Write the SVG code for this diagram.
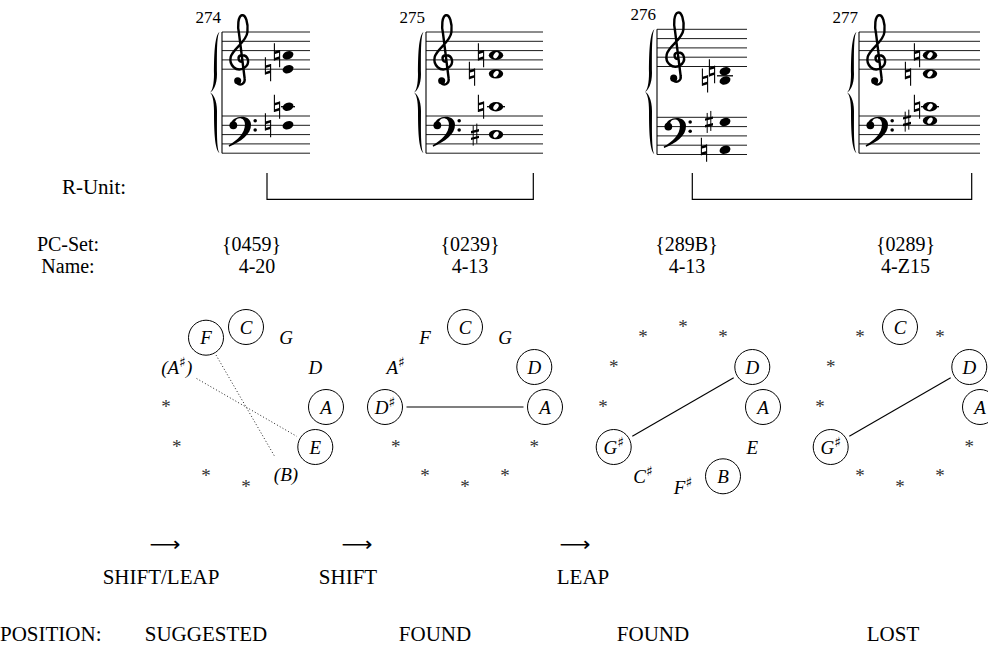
<svg xmlns="http://www.w3.org/2000/svg" xmlns:xlink="http://www.w3.org/1999/xlink" width="988" height="657" viewBox="0 0 988 657">
<style>
.sl{stroke:#000;stroke-width:0.9;fill:none}
.bar{stroke:#000;stroke-width:1.1}
.led{stroke:#000;stroke-width:1.3}
.lbl{font-family:"Liberation Serif",serif;font-size:21px;fill:#000}
.tb{font-family:"Liberation Serif",serif;font-size:20px;fill:#000;text-anchor:middle}
.mid{text-anchor:middle}
.num{font-family:"Liberation Serif",serif;font-size:17px;text-anchor:end;fill:#000}
.it{font-family:"Liberation Serif",serif;font-style:italic;font-size:19px;text-anchor:middle;fill:#000}
.star{font-family:"Liberation Serif",serif;font-size:19px;text-anchor:middle;fill:#333}
.sh{font-family:"DejaVu Sans",sans-serif;font-style:normal;font-size:14px}
.ring{fill:none;stroke:#000;stroke-width:1}
.arw{font-family:"DejaVu Sans",sans-serif;font-size:20px;text-anchor:middle;fill:#000}
.br{fill:none;stroke:#000;stroke-width:1.2}
.solid{stroke:#000;stroke-width:1.1;fill:none}
.dot{stroke:#222;stroke-width:1;stroke-dasharray:1 2.2;fill:none}
</style>
<defs>
<g id="brace">
<path d="M0,0 C-5,3 -5.5,25 -5.5,42 C-5.5,52 -7,58.5 -9.5,60.5 C-6.5,59.5 -2.5,53 -2.5,42 C-2.5,24 -3,4 0,0 Z"/>
<path d="M0,121 C-5,118 -5.5,96 -5.5,79 C-5.5,69 -7,62.5 -9.5,60.5 C-6.5,61.5 -2.5,68 -2.5,79 C-2.5,97 -3,117 0,121 Z"/>
</g>
<g id="gclef">
<path d="M2,2 C-2,2 -3,-4 1,-5 C9,-6 12,4 4,9 C-4,13 -12,6 -10,-3 C-8,-12 7,-19 8,-30 C9,-40 6,-49 2,-48 C-2,-47 -3,-36 -1,-28 L5,20 C6,26 0,28 -3,25" fill="none" stroke="#000" stroke-width="2.6" stroke-linecap="round"/>
<circle cx="-2.5" cy="22.5" r="3.8"/>
</g>
<g id="fclef">
<circle cx="2.5" cy="0" r="4.2"/>
<path d="M-0.5,-1 C1,-11 21,-13 21.5,-1 C22,10 10,18 -2,23 L-2.5,21.5 C7,16 15,9 15,-1 C15,-9 6,-9.5 4.5,-4 Z"/>
<circle cx="26" cy="-5" r="1.9"/>
<circle cx="26" cy="5" r="1.9"/>
</g>
<g id="qn"><ellipse rx="5.6" ry="4" transform="rotate(-20)"/></g>
<g id="wn"><ellipse rx="7.2" ry="4.7"/><ellipse rx="3.4" ry="2.2" transform="rotate(-55)" fill="#fff"/></g>
<g id="nat">
<line x1="-2.6" y1="-12" x2="-2.6" y2="5.3" stroke="#000" stroke-width="1.1"/>
<line x1="2.6" y1="-5.3" x2="2.6" y2="12" stroke="#000" stroke-width="1.1"/>
<polygon points="-2.6,-1.1 2.6,-2.7 2.6,-5.3 -2.6,-3.7"/>
<polygon points="-2.6,5.3 2.6,3.7 2.6,1.1 -2.6,2.7"/>
</g>
<g id="shp">
<line x1="-1.8" y1="-9" x2="-1.8" y2="11" stroke="#000" stroke-width="1"/>
<line x1="1.8" y1="-11" x2="1.8" y2="9" stroke="#000" stroke-width="1"/>
<polygon points="-4,-1.1 4,-3.1 4,-5.5 -4,-3.5"/>
<polygon points="-4,5.5 4,3.5 4,1.1 -4,3.1"/>
</g>
</defs>
<rect width="988" height="657" fill="#fff"/>

<!-- measure 274 -->
<g id="m274">
<text class="num" x="221" y="23">274</text>
<use href="#brace" transform="translate(219.5,32)"/>
<line class="bar" x1="222" y1="32" x2="222" y2="153.2"/>
<path class="sl" d="M222,32H310M222,41.3H310M222,50.6H310M222,59.9H310M222,69.2H310M222,116H310M222,125.3H310M222,134.6H310M222,143.9H310M222,153.2H310"/>
<use href="#gclef" transform="translate(240,59.9) scale(0.93)"/>
<use href="#fclef" transform="translate(231,125.3) scale(0.93)"/>
<use href="#nat" x="277" y="55.25"/><use href="#nat" x="268" y="69.2"/>
<use href="#qn" x="288" y="55.25"/><use href="#qn" x="288" y="69.2"/>
<line class="led" x1="281" y1="106.7" x2="295" y2="106.7"/>
<use href="#nat" x="277" y="106.7"/><use href="#nat" x="268" y="125.3"/>
<use href="#qn" x="288" y="106.7"/><use href="#qn" x="288" y="125.3"/>
</g>

<!-- measure 275 -->
<g id="m275">
<text class="num" x="425" y="23">275</text>
<use href="#brace" transform="translate(423.5,32)"/>
<line class="bar" x1="426" y1="32" x2="426" y2="153.2"/>
<path class="sl" d="M426,32H543M426,41.3H543M426,50.6H543M426,59.9H543M426,69.2H543M426,116H543M426,125.3H543M426,134.6H543M426,143.9H543M426,153.2H543"/>
<use href="#gclef" transform="translate(444,59.9) scale(0.93)"/>
<use href="#fclef" transform="translate(435,125.3) scale(0.93)"/>
<use href="#nat" x="481" y="55.25"/><use href="#nat" x="472" y="73.85"/>
<use href="#wn" x="496" y="55.25"/><use href="#wn" x="496" y="73.85"/>
<line class="led" x1="487" y1="106.7" x2="505" y2="106.7"/>
<use href="#nat" x="481" y="106.7"/><use href="#shp" x="475" y="134.6"/>
<use href="#wn" x="496" y="106.7"/><use href="#wn" x="496" y="134.6"/>
</g>

<!-- measure 276 -->
<g id="m276">
<text class="num" x="656" y="20">276</text>
<use href="#brace" transform="translate(654.5,29.3) scale(1,1.033)"/>
<line class="bar" x1="657" y1="29.3" x2="657" y2="154.5"/>
<path class="sl" d="M657,29.3H747M657,38.6H747M657,47.9H747M657,57.2H747M657,66.5H747M657,117.3H747M657,126.6H747M657,135.9H747M657,145.2H747M657,154.5H747"/>
<use href="#gclef" transform="translate(676,57.2) scale(0.93)"/>
<use href="#fclef" transform="translate(666,126.6) scale(0.93)"/>
<line class="led" x1="717" y1="75.8" x2="733" y2="75.8"/>
<use href="#nat" x="712" y="71.15"/><use href="#nat" x="705" y="80.45"/>
<use href="#qn" x="725" y="71.15"/><use href="#qn" x="725" y="80.45"/>
<use href="#shp" x="709" y="121.95"/><use href="#nat" x="704" y="149.85"/>
<use href="#qn" x="725" y="121.95"/><use href="#qn" x="725" y="149.85"/>
</g>

<!-- measure 277 -->
<g id="m277">
<text class="num" x="858" y="23">277</text>
<use href="#brace" transform="translate(856.5,32)"/>
<line class="bar" x1="859" y1="32" x2="859" y2="153.2"/>
<path class="sl" d="M859,32H980M859,41.3H980M859,50.6H980M859,59.9H980M859,69.2H980M859,116H980M859,125.3H980M859,134.6H980M859,143.9H980M859,153.2H980"/>
<use href="#gclef" transform="translate(877,59.9) scale(0.93)"/>
<use href="#fclef" transform="translate(868,125.3) scale(0.93)"/>
<use href="#nat" x="917" y="55.25"/><use href="#nat" x="908" y="73.85"/>
<use href="#wn" x="930" y="55.25"/><use href="#wn" x="930" y="73.85"/>
<line class="led" x1="921" y1="106.7" x2="939" y2="106.7"/>
<use href="#nat" x="917" y="106.7"/><use href="#shp" x="907" y="120.65"/>
<use href="#wn" x="930" y="106.7"/><use href="#wn" x="930" y="120.65"/>
</g>

<!-- table labels -->
<g id="labels">
<text class="lbl mid" x="94" y="194">R-Unit:</text>
<text class="tb" x="68" y="251">PC-Set:</text>
<text class="tb" x="68" y="273">Name:</text>
<text class="tb" x="251.5" y="251">{0459}</text>
<text class="tb" x="257" y="273">4-20</text>
<text class="tb" x="470" y="251">{0239}</text>
<text class="tb" x="470" y="273">4-13</text>
<text class="tb" x="686.5" y="251">{289B}</text>
<text class="tb" x="687" y="273">4-13</text>
<text class="tb" x="905.5" y="251">{0289}</text>
<text class="tb" x="905.5" y="273">4-Z15</text>
<text class="arw" x="165" y="551" textLength="31" lengthAdjust="spacingAndGlyphs">⟶</text>
<text class="arw" x="357" y="551" textLength="31" lengthAdjust="spacingAndGlyphs">⟶</text>
<text class="arw" x="575" y="551" textLength="31" lengthAdjust="spacingAndGlyphs">⟶</text>
<text class="lbl mid" x="161" y="584">SHIFT/LEAP</text>
<text class="lbl mid" x="348" y="584">SHIFT</text>
<text class="lbl mid" x="583" y="584">LEAP</text>
<text class="lbl" x="0" y="641">POSITION:</text>
<text class="lbl mid" x="206" y="641">SUGGESTED</text>
<text class="lbl mid" x="435" y="641">FOUND</text>
<text class="lbl mid" x="653" y="641">FOUND</text>
<text class="lbl mid" x="893" y="641">LOST</text>
</g>

<!-- connectors -->
<g id="connectors">
<polyline class="br" points="267,173 267,199.3 533.3,199.3 533.3,173"/>
<polyline class="br" points="692.3,173 692.3,199.3 971.7,199.3 971.7,173"/>
<line class="dot" x1="216" y1="355" x2="275" y2="457"/>
<line class="dot" x1="196.6" y1="378.5" x2="296.7" y2="436.3"/>
<line class="solid" x1="406.5" y1="407" x2="523.5" y2="407"/>
<line class="solid" x1="632.3" y1="436.2" x2="733.7" y2="377.8"/>
<line class="solid" x1="849.3" y1="436.2" x2="950.7" y2="377.8"/>
</g>

<!-- diagram 1 -->
<g id="d1">
<g id="d1-C"><circle class="ring" cx="246" cy="327" r="17.5"/><text class="it" x="246" y="333.5">C</text></g>
<g id="d1-G"><text class="it" x="286" y="344.2">G</text></g>
<g id="d1-D"><text class="it" x="315.3" y="373.5">D</text></g>
<g id="d1-A"><circle class="ring" cx="326" cy="407" r="17.5"/><text class="it" x="326" y="413.5">A</text></g>
<g id="d1-E"><circle class="ring" cx="315.3" cy="447" r="17.5"/><text class="it" x="315.3" y="453.5">E</text></g>
<g id="d1-B"><text class="it" x="286" y="480.5">(B)</text></g>
<g id="d1-Fs"><text class="star" x="246" y="492.7">*</text></g>
<g id="d1-Cs"><text class="star" x="206" y="482">*</text></g>
<g id="d1-Gs"><text class="star" x="176.7" y="452.7">*</text></g>
<g id="d1-Ds"><text class="star" x="166" y="412.7">*</text></g>
<g id="d1-As"><text class="it" x="176.7" y="373.5">(A<tspan class="sh" dy="-7">♯</tspan><tspan dy="7">)</tspan></text></g>
<g id="d1-F"><circle class="ring" cx="206" cy="337.7" r="17.5"/><text class="it" x="206" y="344.2">F</text></g>
</g>

<!-- diagram 2 -->
<g id="d2">
<g id="d2-C"><circle class="ring" cx="465" cy="327" r="17.5"/><text class="it" x="465" y="333.5">C</text></g>
<g id="d2-G"><text class="it" x="505" y="344.2">G</text></g>
<g id="d2-D"><circle class="ring" cx="534.3" cy="367" r="17.5"/><text class="it" x="534.3" y="373.5">D</text></g>
<g id="d2-A"><circle class="ring" cx="545" cy="407" r="17.5"/><text class="it" x="545" y="413.5">A</text></g>
<g id="d2-E"><text class="star" x="534.3" y="452.7">*</text></g>
<g id="d2-B"><text class="star" x="505" y="482">*</text></g>
<g id="d2-Fs"><text class="star" x="465" y="492.7">*</text></g>
<g id="d2-Cs"><text class="star" x="425" y="482">*</text></g>
<g id="d2-Gs"><text class="star" x="395.7" y="452.7">*</text></g>
<g id="d2-Ds"><circle class="ring" cx="385" cy="407" r="17.5"/><text class="it" x="385" y="413.5">D<tspan class="sh" dy="-7">♯</tspan></text></g>
<g id="d2-As"><text class="it" x="395.7" y="373.5">A<tspan class="sh" dy="-7">♯</tspan></text></g>
<g id="d2-F"><text class="it" x="425" y="344.2">F</text></g>
</g>

<!-- diagram 3 -->
<g id="d3">
<g id="d3-C"><text class="star" x="683" y="332.7">*</text></g>
<g id="d3-G"><text class="star" x="723" y="343.4">*</text></g>
<g id="d3-D"><circle class="ring" cx="752.3" cy="367" r="17.5"/><text class="it" x="752.3" y="373.5">D</text></g>
<g id="d3-A"><circle class="ring" cx="763" cy="407" r="17.5"/><text class="it" x="763" y="413.5">A</text></g>
<g id="d3-E"><text class="it" x="752.3" y="453.5">E</text></g>
<g id="d3-B"><circle class="ring" cx="723" cy="476.3" r="17.5"/><text class="it" x="723" y="482.8">B</text></g>
<g id="d3-Fs"><text class="it" x="683" y="493.5">F<tspan class="sh" dy="-7">♯</tspan></text></g>
<g id="d3-Cs"><text class="it" x="643" y="482.8">C<tspan class="sh" dy="-7">♯</tspan></text></g>
<g id="d3-Gs"><circle class="ring" cx="613.7" cy="447" r="17.5"/><text class="it" x="613.7" y="453.5">G<tspan class="sh" dy="-7">♯</tspan></text></g>
<g id="d3-Ds"><text class="star" x="603" y="412.7">*</text></g>
<g id="d3-As"><text class="star" x="613.7" y="372.7">*</text></g>
<g id="d3-F"><text class="star" x="643" y="343.4">*</text></g>
</g>

<!-- diagram 4 -->
<g id="d4">
<g id="d4-C"><circle class="ring" cx="900" cy="327" r="17.5"/><text class="it" x="900" y="333.5">C</text></g>
<g id="d4-G"><text class="star" x="940" y="343.4">*</text></g>
<g id="d4-D"><circle class="ring" cx="969.3" cy="367" r="17.5"/><text class="it" x="969.3" y="373.5">D</text></g>
<g id="d4-A"><circle class="ring" cx="980" cy="407" r="17.5"/><text class="it" x="980" y="413.5">A</text></g>
<g id="d4-E"><text class="star" x="969.3" y="452.7">*</text></g>
<g id="d4-B"><text class="star" x="940" y="482">*</text></g>
<g id="d4-Fs"><text class="star" x="900" y="492.7">*</text></g>
<g id="d4-Cs"><text class="star" x="860" y="482">*</text></g>
<g id="d4-Gs"><circle class="ring" cx="830.7" cy="447" r="17.5"/><text class="it" x="830.7" y="453.5">G<tspan class="sh" dy="-7">♯</tspan></text></g>
<g id="d4-Ds"><text class="star" x="820" y="412.7">*</text></g>
<g id="d4-As"><text class="star" x="830.7" y="372.7">*</text></g>
<g id="d4-F"><text class="star" x="860" y="343.4">*</text></g>
</g>
</svg>
